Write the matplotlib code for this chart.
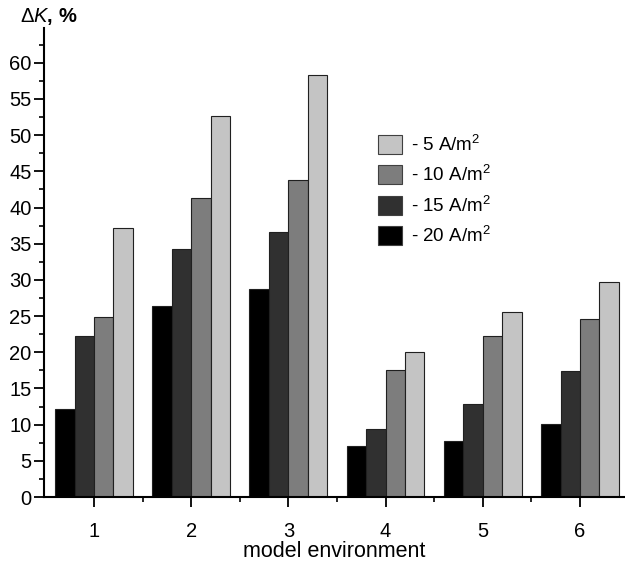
import matplotlib
matplotlib.use("Agg")
import matplotlib.pyplot as plt
import numpy as np
from matplotlib.ticker import MultipleLocator, FixedLocator
from matplotlib.patches import Patch

plt.rcParams['font.family'] = ['Liberation Sans', 'DejaVu Sans']
plt.rcParams['mathtext.fontset'] = 'custom'
plt.rcParams['mathtext.rm'] = 'Liberation Sans'
plt.rcParams['mathtext.it'] = 'Liberation Sans:italic'
plt.rcParams['mathtext.bf'] = 'Liberation Sans:bold'

categories = [1, 2, 3, 4, 5, 6]
series_labels = ["- 20 A/m$^2$", "- 15 A/m$^2$", "- 10 A/m$^2$", "- 5 A/m$^2$"]
v20 = [12.2, 26.4, 28.8, 7.0, 7.8, 10.1]
v15 = [22.2, 34.2, 36.6, 9.4, 12.8, 17.4]
v10 = [24.9, 41.3, 43.8, 17.6, 22.3, 24.6]
v5 = [37.1, 52.6, 58.3, 20.1, 25.6, 29.7]
series = [v20, v15, v10, v5]
colors = ["#000000", "#303030", "#7d7d7d", "#c4c4c4"]

fig = plt.figure(figsize=(6.25, 5.66), dpi=100)
ax = fig.add_axes([0.0704, 0.1219, 0.9296, 0.8286])

x = np.array(categories, dtype=float)
w = 0.2
offsets = [-1.5, -0.5, 0.5, 1.5]
handles = []
for vals, c, off, lab in zip(series, colors, offsets, series_labels):
    ax.bar(x + off * w, vals, width=w, color=c, edgecolor="#202020", linewidth=0.8)
    handles.append(Patch(facecolor=c, edgecolor="#404040", linewidth=0.8, label=lab))

ax.set_xlim(0.486, 6.463)
ax.set_ylim(0, 64.8)
ax.spines['top'].set_visible(False)
ax.spines['right'].set_visible(False)
ax.spines['left'].set_linewidth(1.5)
ax.spines['bottom'].set_linewidth(1.5)

ax.yaxis.set_major_locator(MultipleLocator(5))
ax.yaxis.set_minor_locator(MultipleLocator(2.5))
ax.set_xticks(categories)
ax.xaxis.set_minor_locator(FixedLocator([1.5, 2.5, 3.5, 4.5, 5.5]))
ax.tick_params(axis='both', which='major', direction='out', length=7, width=1.3, labelsize=14.5)
ax.tick_params(axis='y', which='major', pad=2)
ax.tick_params(axis='both', which='minor', direction='out', length=3.5, width=1.2)
ax.tick_params(axis='x', which='major', pad=11)
ax.set_xlabel("model environment", fontsize=15.5, labelpad=0)

fig.text(0.032, 0.97, r"$\Delta\mathbf{\mathit{K}}$, %", fontsize=14.5, fontweight='bold', va='center')

leg = fig.legend(handles=handles[::-1], loc='upper left', bbox_to_anchor=(0.578, 0.792),
                 frameon=False, fontsize=13.5, handlelength=1.25, handleheight=1.2,
                 labelspacing=0.55, handletextpad=0.5)

fig.savefig("out.png", dpi=100)
